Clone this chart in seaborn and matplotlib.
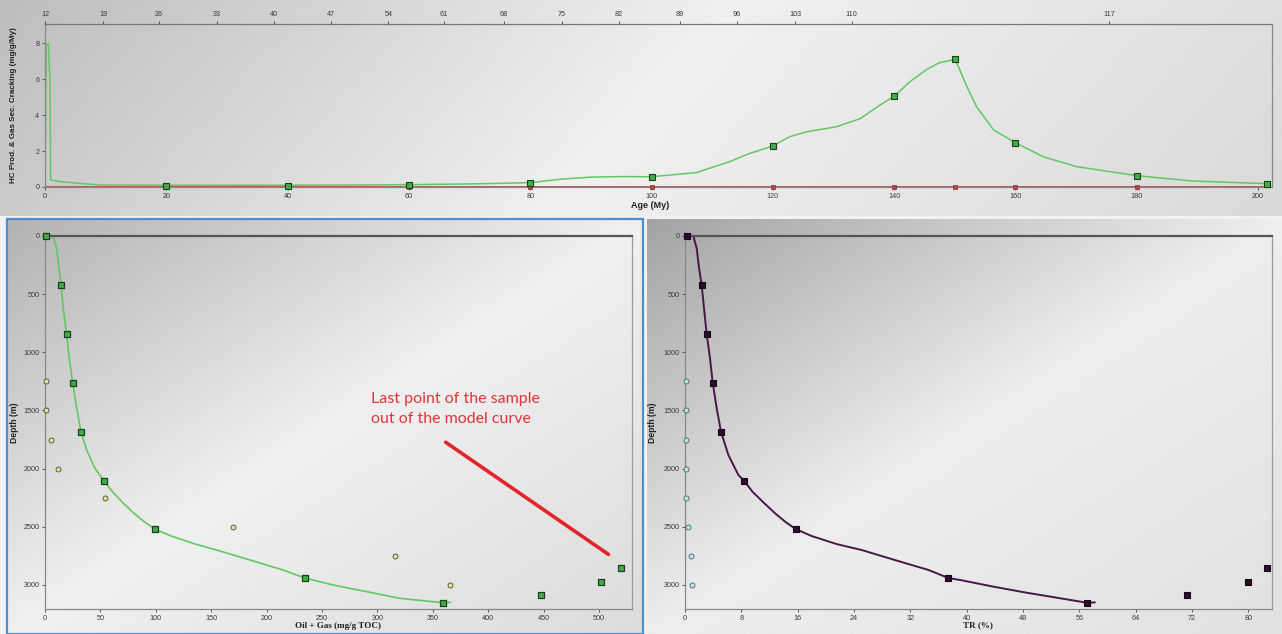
import numpy as np
import pandas as pd
import matplotlib
matplotlib.use("Agg")
import matplotlib.pyplot as plt
from matplotlib.patches import Rectangle
import seaborn as sns

# ---------------- data ----------------
# Top panel: HC production rate vs age
age_curve = [0, 0.2, 0.55, 0.82, 0.93, 2.47, 5.8, 9.1, 20, 30, 40, 50, 60, 70, 80,
             84.9, 90, 95, 100, 107.4, 112.9, 116.2, 120, 122.8, 125.6, 130.5,
             134.4, 137.7, 140, 142.6, 145.4, 147.5, 150, 150.6, 152, 153.6,
             156.4, 160, 164.6, 170.1, 180, 189.3, 202]
rate_curve = [0, 7.9, 7.98, 5.94, 0.39, 0.30, 0.20, 0.11, 0.1, 0.1, 0.1, 0.11, 0.13,
              0.17, 0.24, 0.43, 0.55, 0.58, 0.57, 0.80, 1.41, 1.87, 2.28, 2.80,
              3.07, 3.35, 3.80, 4.56, 5.04, 5.85, 6.54, 6.91, 7.09, 6.69, 5.57,
              4.46, 3.17, 2.46, 1.68, 1.13, 0.63, 0.33, 0.18]
age_pts = [20, 40, 60, 80, 100, 120, 140, 150, 160, 180, 201.5]
rate_pts = [0.05, 0.07, 0.1, 0.24, 0.55, 2.28, 5.04, 7.09, 2.46, 0.63, 0.18]
crack_age = [0, 20, 40, 60, 80, 100, 120, 140, 150, 160, 180, 202]
crack_rate = [0, 0, 0, 0, 0, 0, 0, 0, 0, 0, 0, 0]
crack_pts_age = [20, 40, 60, 80, 100, 120, 140, 150, 160, 180]
crack_pts_rate = [0, 0, 0, 0, 0, 0, 0, 0, 0, 0]
top_tick_labels = [12, 19, 26, 33, 40, 47, 54, 61, 68, 75, 82, 89, 96, 103, 110, 117]
top_tick_age = [0, 9.6, 18.8, 28.4, 37.8, 47.2, 56.6, 65.8, 75.7, 85.2, 94.6,
                104.7, 114.1, 123.7, 133.0, 175.5]

# Bottom panels: model points (squares) and samples (circles) vs depth
depth_sq = [0, 420, 845, 1260, 1683, 2104, 2519, 2941, 3153, 3090, 2978, 2852]
oilgas_sq = [0.5, 14.4, 19.5, 25, 32.5, 53.2, 99, 234.7, 359, 448, 502, 519.6]
tr_sq = [0.3, 2.37, 3.08, 3.93, 5.11, 8.38, 15.7, 37.4, 57.05, 71.3, 79.9, 82.7]

depth_circ = [1250, 1500, 1750, 2000, 2250, 2500, 2750, 3000]
oilgas_circ = [0.8, 0.8, 5.7, 11.7, 53.9, 169.4, 315.6, 365.8]
tr_circ = [0.1, 0.1, 0.1, 0.1, 0.1, 0.4, 0.8, 1.0]

og_curve_depth = [0, 0, 14, 77, 221, 421, 622, 845, 1052, 1261, 1481, 1683, 1840,
                  1998, 2104, 2200, 2300, 2390, 2460, 2519, 2580, 2650, 2700, 2786,
                  2872, 2941, 3001, 3058, 3115, 3153, 3150]
og_curve_x = [0.5, 6, 7.5, 9.9, 12.0, 14.4, 16.5, 19.5, 21.9, 25, 28.6, 32.5, 37.6,
              45.1, 53.2, 61, 71, 81, 90, 99, 114, 136, 155, 185,
              215, 234.7, 260.2, 290.3, 320.4, 359, 366]

tr_curve_depth = [0, 0, 106, 278, 424, 651, 845, 1052, 1261, 1481, 1683, 1883,
                  2055, 2104, 2200, 2300, 2390, 2460, 2519, 2580, 2650, 2700, 2786,
                  2872, 2941, 2958, 3015, 3067, 3115, 3153, 3150]
tr_curve_x = [0.2, 1.18, 1.66, 2.0, 2.37, 2.75, 3.08, 3.55, 3.93, 4.5, 5.11, 6.16,
              7.58, 8.38, 9.6, 11.3, 12.9, 14.3, 15.7, 18.0, 21.6, 25.1, 29.8,
              34.6, 37.4, 39.1, 43.8, 48.5, 53.3, 57.05, 58.2]

annot_text = "Last point of the sample\nout of the model curve"
annot_xy = (294, 1490)
annot_line_start = (359.6, 1760)
annot_line_end = (510.6, 2751)

# ---------------- style ----------------
sns.set_style("ticks")
plt.rcParams["font.family"] = ["Liberation Sans", "DejaVu Sans"]
plt.rcParams["lines.solid_joinstyle"] = "round"
plt.rcParams["lines.solid_capstyle"] = "round"

W, H = 1282, 634
fig = plt.figure(figsize=(W / 100, H / 100), dpi=100)
fig.patch.set_facecolor("#f2f2f2")


def px_rect(x0, y0, x1, y1):
    return [x0 / W, 1 - y1 / H, (x1 - x0) / W, (y1 - y0) / H]


def gradient_bg(rect, wx, wy, ts, vals):
    bg = fig.add_axes(rect, zorder=-5)
    bg.set_axis_off()
    n_r, n_c = 120, 300
    C, R = np.meshgrid(np.linspace(0, 1, n_c), np.linspace(0, 1, n_r))
    t = (wx * C + wy * R) / (wx + wy)
    g = np.interp(t, ts, vals)
    bg.imshow(g, cmap="gray", vmin=0, vmax=1, aspect="auto",
              extent=[0, 1, 0, 1], interpolation="bilinear")
    return bg


gradient_bg(px_rect(0, 0, 1282, 216), 1.0, 0.15, [0, 0.5, 1.0], [0.74, 0.94, 0.85])
gradient_bg(px_rect(7, 219, 643, 634), 1.0, 1.0, [0, 0.5, 1.0], [0.70, 0.94, 0.86])
gradient_bg(px_rect(647, 219, 1282, 634), 1.0, 1.0, [0, 0.5, 1.0], [0.64, 0.93, 0.88])

fig.add_artist(Rectangle((7 / W, 0), (643 - 7) / W, (634 - 219) / H,
                         transform=fig.transFigure, fill=False,
                         ec="#4a8fd6", lw=1.6, zorder=10))

tick_fs = 5.2
tick_col = "#3a3a3a"
green_line = "#62c862"
green_fill = "#3fae4a"
green_edge = "#1d3d1d"


def style_axes(ax):
    ax.patch.set_alpha(0)
    ax.tick_params(axis="both", labelsize=tick_fs, labelcolor=tick_col,
                   length=2.5, width=0.7, color="#555555", pad=1.5)
    for s in ax.spines.values():
        s.set_color("#888888")
        s.set_linewidth(0.9)


# ---------------- top panel ----------------
ax_top = fig.add_axes(px_rect(45, 24, 1272, 187))
style_axes(ax_top)
sns.lineplot(x=age_curve, y=rate_curve, ax=ax_top, sort=False, estimator=None,
             color=green_line, lw=1.1)
sns.lineplot(x=crack_age, y=crack_rate, ax=ax_top, sort=False, estimator=None,
             color="#c05555", lw=1.4)
sns.scatterplot(x=crack_pts_age, y=crack_pts_rate, ax=ax_top, marker="s", s=8,
                color="#b04848", edgecolor="#803030", linewidth=0.5, clip_on=False, zorder=4)
sns.scatterplot(x=age_pts, y=rate_pts, ax=ax_top, marker="s", s=13,
                color=green_fill, edgecolor=green_edge, linewidth=0.8, clip_on=False, zorder=5)
ax_top.set_xlim(0, 202.3)
ax_top.set_ylim(0, 9.06)
ax_top.set_xticks([0, 20, 40, 60, 80, 100, 120, 140, 160, 180, 200])
ax_top.set_yticks([0, 2, 4, 6, 8])
ax_top.set_xlabel("Age (My)", fontsize=6.5, fontweight="bold", color="#222222")
ax_top.xaxis.set_label_coords(0.493, -0.085)
ax_top.set_ylabel("HC Prod. & Gas Sec. Cracking (mg/g/My)", fontsize=5.8,
                  fontweight="bold", color="#222222")
ax_top.yaxis.set_label_coords(-0.0225, 0.5)
ax_top.spines["top"].set_color("#777777")

ax_top2 = ax_top.twiny()
ax_top2.patch.set_alpha(0)
ax_top2.set_xlim(ax_top.get_xlim())
ax_top2.set_xticks(top_tick_age)
ax_top2.set_xticklabels([str(v) for v in top_tick_labels])
ax_top2.tick_params(axis="x", labelsize=tick_fs, labelcolor=tick_col, length=2.5,
                    width=0.7, color="#555555", pad=1.5)
for s in ax_top2.spines.values():
    s.set_visible(False)

# ---------------- bottom-left panel ----------------
ax_l = fig.add_axes(px_rect(45, 236, 632, 609))
style_axes(ax_l)
sns.lineplot(x=og_curve_x, y=og_curve_depth, ax=ax_l, sort=False, estimator=None,
             color=green_line, lw=1.2)
sns.scatterplot(x=oilgas_circ, y=depth_circ, ax=ax_l, marker="o", s=13,
                color="#e6dc9a", edgecolor="#4a4a3a", linewidth=0.6, clip_on=False, zorder=4)
sns.scatterplot(x=oilgas_sq, y=depth_sq, ax=ax_l, marker="s", s=17,
                color=green_fill, edgecolor=green_edge, linewidth=0.9, clip_on=False, zorder=5)
ax_l.set_xlim(0, 529.8)
ax_l.set_ylim(3207, 0)
ax_l.set_xticks(np.arange(0, 501, 50))
ax_l.set_yticks(np.arange(0, 3001, 500))
ax_l.set_xlabel("Oil + Gas (mg/g TOC)", fontsize=6.5, fontweight="bold",
                family=["Liberation Serif", "DejaVu Serif"], color="#222222")
ax_l.xaxis.set_label_coords(0.499, -0.034)
ax_l.set_ylabel("Depth (m)", fontsize=6.2, fontweight="bold", color="#222222")
ax_l.yaxis.set_label_coords(-0.045, 0.5)
ax_l.spines["top"].set_color("#555555")
ax_l.spines["top"].set_linewidth(1.6)
ax_l.spines["right"].set_color("#9a9a9a")

ax_l.annotate("", xy=annot_line_end, xytext=annot_line_start,
              arrowprops=dict(arrowstyle="-", color="#e3242b", lw=2.6))
ax_l.text(annot_xy[0], annot_xy[1], annot_text, fontsize=11.5, color="#e3343a",
          family=["Lato", "DejaVu Sans"], ha="left", va="center", linespacing=1.55)

# ---------------- bottom-right panel ----------------
ax_r = fig.add_axes(px_rect(685, 236, 1271.7, 609))
style_axes(ax_r)
sns.lineplot(x=tr_curve_x, y=tr_curve_depth, ax=ax_r, sort=False, estimator=None,
             color="#4a1646", lw=1.4)
sns.scatterplot(x=tr_circ, y=depth_circ, ax=ax_r, marker="o", s=13,
                color="#b9e3e6", edgecolor="#3f6a70", linewidth=0.6, clip_on=False, zorder=4)
sns.scatterplot(x=tr_sq, y=depth_sq, ax=ax_r, marker="s", s=17,
                color="#2e0b2c", edgecolor="#1a0518", linewidth=0.8, clip_on=False, zorder=5)
ax_r.set_xlim(0, 83.3)
ax_r.set_ylim(3207, 0)
ax_r.set_xticks(np.arange(0, 81, 8))
ax_r.set_yticks(np.arange(0, 3001, 500))
ax_r.set_xlabel("TR (%)", fontsize=6.5, fontweight="bold",
                family=["Liberation Serif", "DejaVu Serif"], color="#222222")
ax_r.xaxis.set_label_coords(0.4995, -0.034)
ax_r.set_ylabel("Depth (m)", fontsize=6.2, fontweight="bold", color="#222222")
ax_r.yaxis.set_label_coords(-0.048, 0.5)
ax_r.spines["top"].set_color("#555555")
ax_r.spines["top"].set_linewidth(1.6)
ax_r.spines["right"].set_color("#9a9a9a")

fig.savefig("out.png", dpi=100, facecolor=fig.get_facecolor())
